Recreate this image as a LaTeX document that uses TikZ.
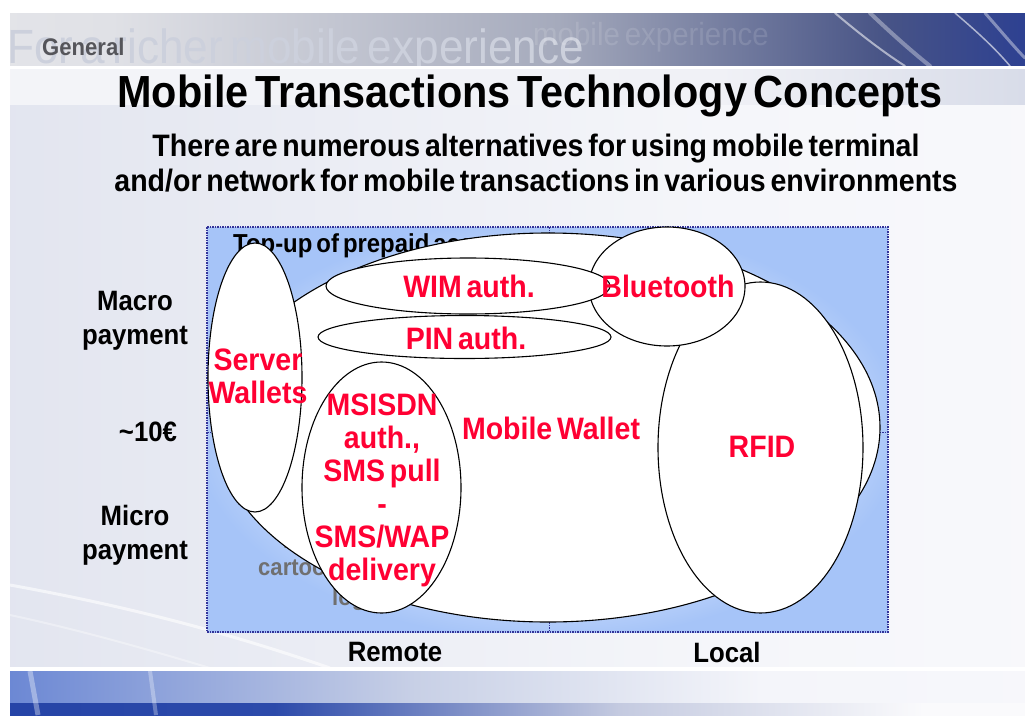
\documentclass[tikz,border=0pt]{standalone}
\usepackage{fontspec}
\setmainfont{Liberation Sans}[FakeStretch=0.92,WordSpace=0.6]
\usetikzlibrary{shapes.geometric}

\newcommand\fsz[2]{\fontsize{#1}{#2}\selectfont}

\definecolor{boxblue}{RGB}{166,196,248}
\definecolor{frameblue}{RGB}{51,51,153}
\definecolor{lblred}{RGB}{255,0,51}
\definecolor{lblgray}{RGB}{112,112,112}
\definecolor{hdgray}{RGB}{85,85,90}
\definecolor{wmgray}{RGB}{204,208,220}

% slide backdrop
\pgfdeclarehorizontalshading{slidebg}{100bp}{
  color(0bp)=({rgb,255:red,208;green,212;blue,228});
  color(20bp)=({rgb,255:red,224;green,227;blue,238});
  color(60bp)=({rgb,255:red,245;green,246;blue,250});
  color(100bp)=({rgb,255:red,252;green,252;blue,253})}
% title banner
\pgfdeclarehorizontalshading{banner}{100bp}{
  color(0bp)=({rgb,255:red,240;green,241;blue,244});
  color(30bp)=({rgb,255:red,224;green,225;blue,230});
  color(52bp)=({rgb,255:red,165;green,170;blue,188});
  color(68bp)=({rgb,255:red,72;green,84;blue,134});
  color(78bp)=({rgb,255:red,34;green,56;blue,150});
  color(90bp)=({rgb,255:red,45;green,82;blue,200});
  color(100bp)=({rgb,255:red,72;green,112;blue,222})}
% stripe under the banner
\pgfdeclarehorizontalshading{understripe}{100bp}{
  color(0bp)=({rgb,255:red,246;green,247;blue,250});
  color(60bp)=({rgb,255:red,240;green,241;blue,246});
  color(80bp)=({rgb,255:red,208;green,213;blue,228});
  color(100bp)=({rgb,255:red,192;green,200;blue,224})}
% footer bands
\pgfdeclarehorizontalshading{footA}{100bp}{
  color(0bp)=({rgb,255:red,66;green,104;blue,215});
  color(25bp)=({rgb,255:red,108;green,136;blue,212});
  color(45bp)=({rgb,255:red,200;green,208;blue,230});
  color(62bp)=({rgb,255:red,244;green,245;blue,250});
  color(100bp)=({rgb,255:red,252;green,252;blue,253})}
\pgfdeclarehorizontalshading{footB}{100bp}{
  color(0bp)=({rgb,255:red,26;green,56;blue,160});
  color(38bp)=({rgb,255:red,44;green,74;blue,170});
  color(55bp)=({rgb,255:red,196;green,202;blue,224});
  color(70bp)=({rgb,255:red,250;green,250;blue,252});
  color(100bp)=({rgb,255:red,252;green,252;blue,253})}
% soft glow inside the chart area
\pgfdeclareradialshading{boxglow}{\pgfpoint{0bp}{0bp}}{
  color(0bp)=(white);
  color(14bp)=(white!70!boxblue);
  color(26bp)=(boxblue);
  color(100bp)=(boxblue)}

\begin{document}
\begin{tikzpicture}[x=1pt,y=-1pt,
  blob/.style={ellipse, draw=black, line width=1.1pt, fill=white, inner sep=0pt, outer sep=0pt},
  redlbl/.style={text=lblred, font=\bfseries\fsz{31}{33}, align=center, inner sep=0pt},
  axislbl/.style={text=black, font=\bfseries\fsz{28}{34}, align=center, inner sep=0pt},
  framedash/.style={draw=frameblue, line width=1.4pt, dash pattern=on 2pt off 1pt on 1pt off 1pt},
  swoosh/.style={draw=white, line cap=round}]
\useasboundingbox (0,0) rectangle (1025,715);

% ---------- slide background ----------
\fill[white] (0,0) rectangle (1025,715);
\shade[shading=slidebg] (10,13) rectangle (1025,715);
\shade[shading=understripe] (10,69) rectangle (1025,104);
\draw[white, opacity=0.6, line width=3pt] (10,585) .. controls (120,605) and (220,630) .. (330,668);
\draw[white, opacity=0.35, line width=2pt] (10,615) .. controls (80,630) and (150,650) .. (210,668);

% ---------- title banner ----------
\shade[shading=banner] (10,13) rectangle (1025,66);
\begin{scope}
  \clip (10,13) rectangle (1025,66);
  \node[anchor=base west, inner sep=0pt, text=wmgray,
        font=\fsz{48}{48}] (wmA) at (7,63) {For a richer mobile experience};
  \node[anchor=base west, inner sep=0pt, text=white, opacity=0.12,
        font=\fsz{32}{32}] (wmB) at (533,45) {mobile experience};
  \draw[swoosh, opacity=0.55, line width=2pt] (835,13) .. controls (855,30) and (880,50) .. (905,66);
  \draw[swoosh, opacity=0.35, line width=4pt] (870,13) .. controls (890,32) and (910,50) .. (930,66);
  \draw[swoosh, opacity=0.6, line width=1.5pt] (955,13) .. controls (975,30) and (995,48) .. (1010,66);
  \draw[swoosh, opacity=0.4, line width=3pt] (985,13) .. controls (1000,30) and (1015,48) .. (1025,58);
\end{scope}
\fill[white] (10,66) rectangle (1025,69);

\node[anchor=west, inner sep=0pt, text=hdgray, font=\bfseries\fsz{24}{24}] (general) at (42,47) {General};

% ---------- footer ----------
\fill[white] (10,667) rectangle (1025,671);
\shade[shading=footA] (10,671) rectangle (1025,703);
\shade[shading=footB] (10,703) rectangle (1025,715);
\draw[white, opacity=0.35, line width=5pt] (30,671) -- (38,715);
\draw[white, opacity=0.3, line width=4pt] (150,671) -- (156,715);

% ---------- headings ----------
\node[inner sep=0pt, font=\bfseries\fsz{45}{45}] (title) at (530,96)
  {Mobile Transactions Technology Concepts};
\node[inner sep=0pt, font=\bfseries\fsz{31}{35}, align=center] (subtitle) at (536,163)
  {There are numerous alternatives for using mobile terminal\\
   and/or network for mobile transactions in various environments};

% ---------- chart area ----------
\shade[shading=boxglow] (207,227) rectangle (888,632);
\draw[framedash, line width=1pt] (549,227) -- (549,632);
\draw[framedash, line width=1pt] (207,432) -- (888,432);
\draw[framedash] (207,227) rectangle (888,632);

% labels lying under the ellipses
\node[anchor=west, inner sep=0pt, font=\bfseries\fsz{26}{26}] (topup) at (233,246)
  {Top-up of prepaid accounts};
\node[anchor=west, inner sep=0pt, text=lblgray, font=\bfseries\fsz{24}{24}] (g1) at (283,542) {Ringtones,};
\node[anchor=west, inner sep=0pt, text=lblgray, font=\bfseries\fsz{24}{24}] (g2) at (258,570) {cartoons,};
\node[anchor=west, inner sep=0pt, text=lblgray, font=\bfseries\fsz{24}{24}] (g3) at (332,599) {logos};

% ---------- technology ellipses ----------
\node[blob, minimum width=664pt, minimum height=389pt] (wallet)  at (548,427.5) {};
\node[blob, minimum width=94pt,  minimum height=269pt] (server)  at (255,377.5) {};
\node[blob, minimum width=159pt, minimum height=251pt] (msisdn)  at (381.5,487.5) {};
\node[blob, minimum width=293pt, minimum height=43pt]  (pin)     at (464.5,337) {};
\node[blob, minimum width=205pt, minimum height=331pt] (rfid)    at (760.5,447.5) {};
\node[blob, minimum width=156pt, minimum height=119pt] (bt)      at (667,286.5) {};
\node[blob, minimum width=284pt, minimum height=56pt]  (wim)     at (468,286) {};

% ---------- ellipse labels ----------
\node[redlbl] (tWallet) at (551,428) {Mobile Wallet};
\node[redlbl] (tServer) at (258,376) {Server\\Wallets};
\node[redlbl] (tMsisdn) at (382,490) {MSISDN\\auth.,\\SMS pull\\-\\SMS/WAP\\delivery};
\node[redlbl] (tPin)    at (466,338) {PIN auth.};
\node[redlbl] (tRfid)   at (762,447) {RFID};
\node[redlbl] (tBt)     at (668,286) {Bluetooth};
\node[redlbl] (tWim)    at (469,286) {WIM auth.};

% ---------- axis labels ----------
\node[axislbl] (macro) at (135,321) {Macro\\payment};
\node[axislbl] (limit) at (148,432) {{\char"7E}10€};
\node[axislbl] (micro) at (135,535) {Micro\\payment};
\node[axislbl] (remote) at (395,652) {Remote};
\node[axislbl] (local)  at (727,652) {Local};
\end{tikzpicture}
\end{document}
